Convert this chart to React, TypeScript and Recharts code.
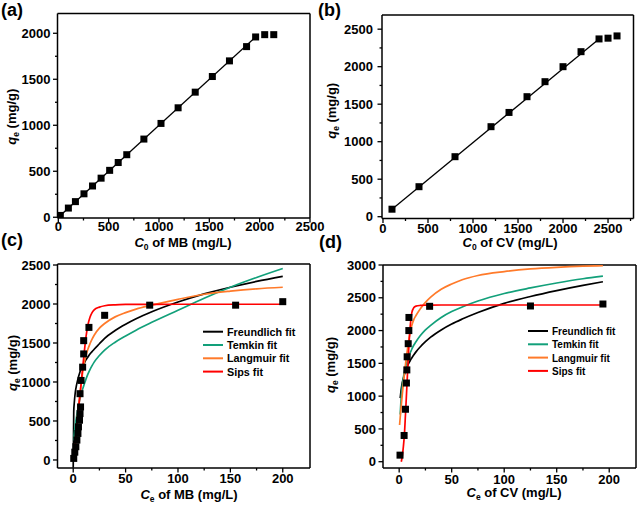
import React from "react";
import { ComposedChart, Line, Scatter, XAxis, YAxis, ReferenceLine } from "recharts";

const W = 638;
const H = 506;
const FONT = "'Liberation Sans', Arial, Helvetica, sans-serif";

// (a) MB: initial concentration vs uptake
const MB_C0 = [20, 100, 170, 255, 340, 425, 510, 595, 680, 850, 1020, 1190, 1360, 1530, 1700, 1870, 1960, 2050, 2140];
const MB_QE = [20, 100, 170, 255, 340, 425, 510, 595, 680, 850, 1020, 1190, 1360, 1530, 1700, 1855, 1960, 1985, 1985];

// (b) CV: initial concentration vs uptake
const CV_C0 = [100, 400, 800, 1200, 1400, 1600, 1800, 2000, 2200, 2400, 2500, 2600];
const CV_QE = [100, 400, 800, 1200, 1390, 1600, 1800, 2000, 2200, 2370, 2380, 2410];

// (c) MB isotherm points
const MB_CE = [0.5, 1.5, 2.5, 3.5, 4.5, 5, 6, 6.5, 7, 6.5, 7.5, 9, 10, 10, 15, 30, 73, 155, 200];
const MB_QE_EQ = [20, 100, 170, 255, 340, 425, 510, 595, 680, 850, 1020, 1190, 1360, 1530, 1700, 1855, 1985, 1985, 2030];

// (d) CV isotherm points
const CV_CE = [0.8, 4.7, 6, 6.9, 7.3, 7.6, 8.6, 9.2, 9.3, 29, 125, 194];
const CV_QE_EQ = [100, 400, 800, 1200, 1400, 1600, 1800, 2000, 2200, 2370, 2375, 2405];

// (c) fitted curves
const MB_FIT_X = [0, 0.5, 1, 2, 3, 4, 5, 6, 7, 8, 9, 10, 12, 14, 16, 18, 20, 25, 30, 40, 50, 60, 75, 100, 125, 150, 175, 200];
const MB_FREUNDLICH = [-100, 620, 730, 870, 950, 1010, 1065, 1110, 1150, 1180, 1210, 1230, 1280, 1320, 1360, 1390, 1420, 1490, 1560, 1660, 1740, 1810, 1900, 2025, 2130, 2215, 2290, 2355];
const MB_TEMKIN = [null, 250, 330, 450, 540, 620, 690, 760, 820, 870, 910, 950, 1030, 1100, 1160, 1210, 1255, 1340, 1410, 1510, 1590, 1665, 1765, 1920, 2075, 2215, 2340, 2455];
const MB_LANGMUIR = [0, 60, 130, 260, 400, 550, 680, 800, 920, 1020, 1120, 1210, 1330, 1420, 1490, 1550, 1600, 1690, 1750, 1835, 1890, 1935, 1985, 2060, 2125, 2165, 2195, 2215];
const MB_SIPS = [null, 0, 40, 160, 340, 500, 640, 770, 900, 1040, 1180, 1310, 1560, 1730, 1830, 1890, 1925, 1960, 1978, 1990, 1994, 1995, 1996, 1997, 1997, 1997, 1997, 1997];

// (d) fitted curves
const CV_FIT_X = [0.4, 1, 2, 3, 4, 5, 6, 7, 8, 9, 10, 11, 12, 14, 16, 20, 25, 30, 40, 50, 60, 75, 100, 125, 150, 175, 194];
const CV_FREUNDLICH = [null, 970, 1110, 1210, 1275, 1330, 1385, 1425, 1465, 1500, 1528, 1557, 1582, 1630, 1675, 1750, 1830, 1900, 2010, 2100, 2175, 2275, 2415, 2520, 2610, 2690, 2745];
const CV_TEMKIN = [null, 720, 1000, 1160, 1280, 1370, 1440, 1500, 1555, 1600, 1645, 1680, 1715, 1780, 1830, 1920, 2010, 2080, 2200, 2290, 2360, 2450, 2565, 2650, 2725, 2790, 2830];
const CV_LANGMUIR = [560, 680, 860, 1030, 1190, 1340, 1480, 1610, 1730, 1840, 1935, 2010, 2075, 2170, 2230, 2330, 2430, 2510, 2630, 2710, 2775, 2840, 2900, 2940, 2965, 2982, 2990];
const CV_SIPS = [null, null, 0, 90, 230, 420, 720, 1040, 1370, 1690, 1960, 2150, 2270, 2350, 2372, 2383, 2387, 2389, 2390, 2390, 2390, 2390, 2390, 2390, 2390, 2390, 2390];

// tick labels
const A_X_MAJOR = [0, 500, 1000, 1500, 2000, 2500];
const A_X_MINOR = [250, 750, 1250, 1750, 2250];
const A_Y_MAJOR = [0, 500, 1000, 1500, 2000];
const A_Y_MINOR = [250, 750, 1250, 1750];
const B_X_MAJOR = [0, 500, 1000, 1500, 2000, 2500];
const B_X_MINOR = [250, 750, 1250, 1750, 2250, 2750];
const B_Y_MAJOR = [0, 500, 1000, 1500, 2000, 2500];
const B_Y_MINOR = [250, 750, 1250, 1750, 2250];
const CE_X_MAJOR = [0, 50, 100, 150, 200];
const CE_X_MINOR = [25, 75, 125, 175];
const C_Y_MAJOR = [0, 500, 1000, 1500, 2000, 2500];
const C_Y_MINOR = [250, 750, 1250, 1750, 2250];
const D_Y_MAJOR = [0, 500, 1000, 1500, 2000, 2500, 3000];
const D_Y_MINOR = [250, 750, 1250, 1750, 2250, 2750];

const FITS = [
  { name: "Freundlich fit", color: "#000000" },
  { name: "Temkin fit", color: "#12a07a" },
  { name: "Langmuir fit", color: "#ff7a2a" },
  { name: "Sips fit", color: "#ff0000" },
];

type Pt = { x: number; y: number };
const pts = (xs: number[], ys: (number | null)[]): Pt[] =>
  xs.flatMap((x, i) => (ys[i] == null ? [] : [{ x, y: ys[i] as number }]));

const Square = (p: any) => {
  if (p.cx == null || p.cy == null) return null;
  return <rect x={p.cx - 3.5} y={p.cy - 3.5} width={7} height={7} fill="#000" />;
};

const labelStyle = { fontFamily: FONT, fontWeight: 700, fontSize: 13, fill: "#000" };

const xTick = (majors: number[], dy: number) => (p: any) => {
  const v = p.payload.value;
  const major = majors.includes(v);
  return (
    <g>
      <line x1={p.x} x2={p.x} y1={p.y} y2={p.y + (major ? 4.5 : 2.5)} stroke="#000" strokeWidth={1.3} />
      {major && (
        <text x={p.x} y={p.y + dy} textAnchor="middle" style={labelStyle}>
          {v}
        </text>
      )}
    </g>
  );
};

const yTick = (majors: number[], dx: number) => (p: any) => {
  const v = p.payload.value;
  const major = majors.includes(v);
  return (
    <g>
      <line x1={p.x} x2={p.x - (major ? 4.5 : 2.5)} y1={p.y} y2={p.y} stroke="#000" strokeWidth={1.3} />
      {major && (
        <text x={p.x - dx} y={p.y} dy="0.36em" textAnchor="end" style={labelStyle}>
          {v}
        </text>
      )}
    </g>
  );
};

type PanelProps = {
  plot: { left: number; right: number; top: number; bottom: number };
  xDomain: [number, number];
  yDomain: [number, number];
  xMajor: number[];
  xMinor: number[];
  yMajor: number[];
  yMinor: number[];
  xLabelDy: number;
  yLabelDx: number;
  children: React.ReactNode;
};

function Panel({ plot, xDomain, yDomain, xMajor, xMinor, yMajor, yMinor, xLabelDy, yLabelDx, children }: PanelProps) {
  const xTicks = [...xMajor, ...xMinor].sort((a, b) => a - b);
  const yTicks = [...yMajor, ...yMinor].sort((a, b) => a - b);
  return (
    <div style={{ position: "absolute", left: 0, top: 0 }}>
      <ComposedChart
        width={W}
        height={H}
        margin={{ top: plot.top, right: W - plot.right, bottom: 0, left: 0 }}
      >
        <XAxis
          type="number"
          dataKey="x"
          domain={xDomain}
          allowDataOverflow
          ticks={xTicks}
          interval={0}
          height={H - plot.bottom}
          tickSize={0}
          tickMargin={0}
          tickLine={false}
          axisLine={{ stroke: "#000", strokeWidth: 1.5 }}
          tick={xTick(xMajor, xLabelDy)}
        />
        <YAxis
          type="number"
          dataKey="y"
          domain={yDomain}
          allowDataOverflow
          ticks={yTicks}
          interval={0}
          width={plot.left}
          tickSize={0}
          tickMargin={0}
          tickLine={false}
          axisLine={{ stroke: "#000", strokeWidth: 1.5 }}
          tick={yTick(yMajor, yLabelDx)}
        />
        <ReferenceLine y={yDomain[1]} stroke="#000" strokeWidth={1.5} />
        <ReferenceLine x={xDomain[1]} stroke="#000" strokeWidth={1.5} />
        {children}
      </ComposedChart>
    </div>
  );
}

function Title({ x, y, italic, sub, rest, rotate }: { x: number; y: number; italic: string; sub: string; rest: string; rotate?: boolean }) {
  return (
    <text
      x={x}
      y={y}
      transform={rotate ? `rotate(-90 ${x} ${y})` : undefined}
      textAnchor="middle"
      fontFamily={FONT}
      fontWeight={700}
      fontSize={13}
      fill="#000"
    >
      <tspan fontStyle="italic">{italic}</tspan>
      <tspan fontSize={8.5} dy={3}>{sub}</tspan>
      <tspan dy={-3}>{rest}</tspan>
    </text>
  );
}

function FitLegend({ x, y, gap, fontSize }: { x: number; y: number; gap: number; fontSize: number }) {
  return (
    <g>
      {FITS.map((f, i) => (
        <g key={f.name}>
          <line x1={x} x2={x + 20} y1={y + i * gap} y2={y + i * gap} stroke={f.color} strokeWidth={2} />
          <text x={x + 24} y={y + i * gap + 4} fontFamily={FONT} fontWeight={700} fontSize={fontSize} fill="#000">
            {f.name}
          </text>
        </g>
      ))}
    </g>
  );
}

function fitLines(xs: number[], ys: (number | null)[][]) {
  return FITS.map((f, i) => (
    <Line
      key={f.name}
      data={pts(xs, ys[i])}
      dataKey="y"
      name={f.name}
      type="monotone"
      stroke={f.color}
      strokeWidth={1.7}
      dot={false}
      activeDot={false}
      isAnimationActive={false}
    />
  ));
}

export default function App() {
  const mbLinear = [
    { x: MB_C0[0], y: MB_QE[0] },
    { x: MB_C0[16], y: MB_QE[16] },
  ];
  const cvLinear = [
    { x: CV_C0[0], y: CV_QE[0] },
    { x: CV_C0[9], y: CV_QE[9] },
  ];
  return (
    <div style={{ position: "absolute", left: 0, top: 0, width: W, height: H, background: "#fff", overflow: "hidden" }}>
      <Panel
        plot={{ left: 57.5, right: 310, top: 13.5, bottom: 218 }}
        xDomain={[-8, 2500]}
        yDomain={[-8, 2215]}
        xMajor={A_X_MAJOR}
        xMinor={A_X_MINOR}
        yMajor={A_Y_MAJOR}
        yMinor={A_Y_MINOR}
        xLabelDy={13}
        yLabelDx={7}
      >
        <Line data={mbLinear} dataKey="y" stroke="#000" strokeWidth={1.3} dot={false} activeDot={false} isAnimationActive={false} />
        <Scatter data={pts(MB_C0, MB_QE)} dataKey="y" shape={Square} isAnimationActive={false} />
      </Panel>
      <Panel
        plot={{ left: 382, right: 633.5, top: 15, bottom: 218.5 }}
        xDomain={[-11, 2783]}
        yDomain={[-24, 2689]}
        xMajor={B_X_MAJOR}
        xMinor={B_X_MINOR}
        yMajor={B_Y_MAJOR}
        yMinor={B_Y_MINOR}
        xLabelDy={14}
        yLabelDx={9}
      >
        <Line data={cvLinear} dataKey="y" stroke="#000" strokeWidth={1.3} dot={false} activeDot={false} isAnimationActive={false} />
        <Scatter data={pts(CV_C0, CV_QE)} dataKey="y" shape={Square} isAnimationActive={false} />
      </Panel>
      <Panel
        plot={{ left: 57.5, right: 310, top: 264, bottom: 468 }}
        xDomain={[-15, 226]}
        yDomain={[-103, 2513]}
        xMajor={CE_X_MAJOR}
        xMinor={CE_X_MINOR}
        yMajor={C_Y_MAJOR}
        yMinor={C_Y_MINOR}
        xLabelDy={15}
        yLabelDx={7}
      >
        <Scatter data={pts(MB_CE, MB_QE_EQ)} dataKey="y" shape={Square} isAnimationActive={false} />
        {fitLines(MB_FIT_X, [MB_FREUNDLICH, MB_TEMKIN, MB_LANGMUIR, MB_SIPS])}
      </Panel>
      <Panel
        plot={{ left: 383, right: 636, top: 265, bottom: 468 }}
        xDomain={[-15.4, 225.5]}
        yDomain={[-96, 3000]}
        xMajor={CE_X_MAJOR}
        xMinor={CE_X_MINOR}
        yMajor={D_Y_MAJOR}
        yMinor={D_Y_MINOR}
        xLabelDy={15.5}
        yLabelDx={7}
      >
        <Scatter data={pts(CV_CE, CV_QE_EQ)} dataKey="y" shape={Square} isAnimationActive={false} />
        {fitLines(CV_FIT_X, [CV_FREUNDLICH, CV_TEMKIN, CV_LANGMUIR, CV_SIPS])}
      </Panel>
      <svg width={W} height={H} style={{ position: "absolute", left: 0, top: 0, pointerEvents: "none" }}>
        <g fontFamily={FONT} fontWeight={700} fontSize={18} fill="#000">
          <text x={1} y={16}>(a)</text>
          <text x={318} y={16}>(b)</text>
          <text x={1} y={246}>(c)</text>
          <text x={319} y={247.5}>(d)</text>
        </g>
        <Title x={183} y={247} italic="C" sub="0" rest=" of MB (mg/L)" />
        <Title x={510} y={247} italic="C" sub="0" rest=" of CV (mg/L)" />
        <Title x={189} y={499} italic="C" sub="e" rest=" of MB (mg/L)" />
        <Title x={514} y={497} italic="C" sub="e" rest=" of CV (mg/L)" />
        <Title x={16.5} y={116.7} italic="q" sub="e" rest=" (mg/g)" rotate />
        <Title x={336} y={110.8} italic="q" sub="e" rest=" (mg/g)" rotate />
        <Title x={16.5} y={363} italic="q" sub="e" rest=" (mg/g)" rotate />
        <Title x={335} y={365} italic="q" sub="e" rest=" (mg/g)" rotate />
        <FitLegend x={203} y={331.7} gap={13.3} fontSize={10.8} />
        <FitLegend x={528} y={331} gap={13.3} fontSize={10} />
      </svg>
    </div>
  );
}
